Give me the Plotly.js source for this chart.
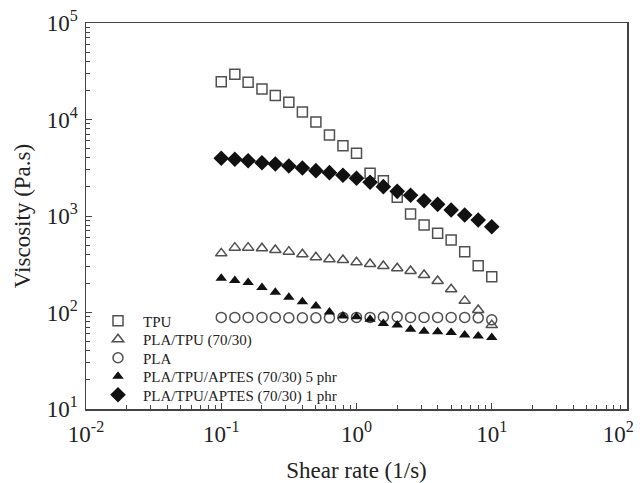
<!DOCTYPE html>
<html>
<head>
<meta charset="utf-8">
<script src="https://cdn.plot.ly/plotly-3.0.1.min.js"></script>
<style>html,body{margin:0;padding:0;background:#fff;}#chart{width:640px;height:483px;}</style>
</head>
<body>
<div id="chart"></div>
<script>
const shearRate = [0.1, 0.126, 0.158, 0.2, 0.251, 0.316, 0.398, 0.501, 0.631, 0.794, 1, 1.26, 1.58, 2, 2.51, 3.16, 3.98, 5.01, 6.31, 7.94, 10];
const tpu = [24650, 29400, 24300, 20700, 17700, 15100, 11950, 9420, 6900, 5350, 4470, 2770, 2320, 1560, 1050, 807, 662, 564, 426, 305, 235];
const plaTpu = [410, 470, 470, 463, 444, 427, 401, 373, 356, 350, 331, 318, 303, 287, 269, 245, 212, 174, 132, 106, 74];
const pla = [89, 89, 89, 89, 89, 88, 88, 88, 88, 89, 89, 89, 90, 90, 89, 89, 89, 89, 89, 88, 84];
const aptes5 = [226, 214, 204, 182, 162, 144, 129, 117, 101, 92, 90.6, 85, 77, 74, 67, 64, 63, 62, 58.5, 57, 55];
const aptes1 = [3960, 3870, 3740, 3565, 3455, 3295, 3140, 2950, 2815, 2640, 2460, 2235, 2015, 1800, 1640, 1440, 1320, 1155, 1025, 909, 775];
const seriesNames = ["TPU", "PLA/TPU (70/30)", "PLA", "PLA/TPU/APTES (70/30) 5 phr", "PLA/TPU/APTES (70/30) 1 phr"];
const xTickVals = [0.01, 0.1, 1, 10, 100];
const xTickText = ["10<sup>-2</sup>", "10<sup>-1</sup>", "10<sup>0</sup>", "10<sup>1</sup>", "10<sup>2</sup>\u00a0\u00a0\u00a0"];
const yTickVals = [10, 100, 1000, 10000, 100000];
const yTickText = ["10<sup>1</sup>", "10<sup>2</sup>", "10<sup>3</sup>", "10<sup>4</sup>", "10<sup>5</sup>"];

const openGray = '#505050';
const legendKeys = ['legend', 'legend2', 'legend3', 'legend4', 'legend5'];
function tr(y, i, symbol, size, filled) {
  return {
    x: shearRate, y: y, name: seriesNames[i], type: 'scatter', mode: 'markers',
    legend: legendKeys[i], cliponaxis: false,
    marker: filled ? {symbol: symbol, size: size, color: '#111', line: {width: 0}}
                   : {symbol: symbol, size: size, color: openGray, line: {color: openGray, width: 1.5}}
  };
}
const data = [
  tr(tpu, 0, 'square-open', 10, false),
  tr(plaTpu, 1, 'triangle-up-open', 10, false),
  tr(pla, 2, 'circle-open', 10, false),
  tr(aptes5, 3, 'triangle-up', 10, true),
  tr(aptes1, 4, 'diamond', 12, true)
];
const font = 'Liberation Serif, Times New Roman, serif';
const axisCommon = {
  type: 'log', showgrid: false, zeroline: false, showline: true, mirror: true,
  linecolor: '#444', linewidth: 1.5, ticks: 'inside', ticklen: 6, tickcolor: '#444',
  tickmode: 'array', ticklabeloverflow: 'allow', tickfont: {family: font, size: 23, color: '#222'},
  minor: {ticks: 'inside', ticklen: 4, tickcolor: '#444', dtick: 'D1', showgrid: false}
};
const legendRowsPx = [321, 339.5, 358, 376.5, 395];
const layout = {
  width: 640, height: 483,
  margin: {l: 86, r: 13, t: 23, b: 74},
  paper_bgcolor: '#fff', plot_bgcolor: '#fff',
  font: {family: font, color: '#222'},
  showlegend: true,
  xaxis: Object.assign({}, axisCommon, {range: [-2, 2], tickvals: xTickVals, ticktext: xTickText, ticklabelstandoff: 4,
           title: {text: 'Shear rate (1/s)', font: {family: font, size: 23, color: '#222'}, standoff: 16}}),
  yaxis: Object.assign({}, axisCommon, {range: [1, 5], tickvals: yTickVals, ticktext: yTickText, ticklabelstandoff: 2,
           title: {text: 'Viscosity (Pa.s)', font: {family: font, size: 23, color: '#222'}, standoff: 10}})
};
legendKeys.forEach(function (k, i) {
  layout[k] = {x: (93 - 86) / 541, y: (409 - legendRowsPx[i]) / 386, xanchor: 'left', yanchor: 'middle',
               bgcolor: 'rgba(0,0,0,0)', borderwidth: 0, itemwidth: 40,
               font: {family: font, size: 15, color: '#222'}};
});
Plotly.newPlot('chart', data, layout, {displayModeBar: false, staticPlot: true});
</script>
</body>
</html>
